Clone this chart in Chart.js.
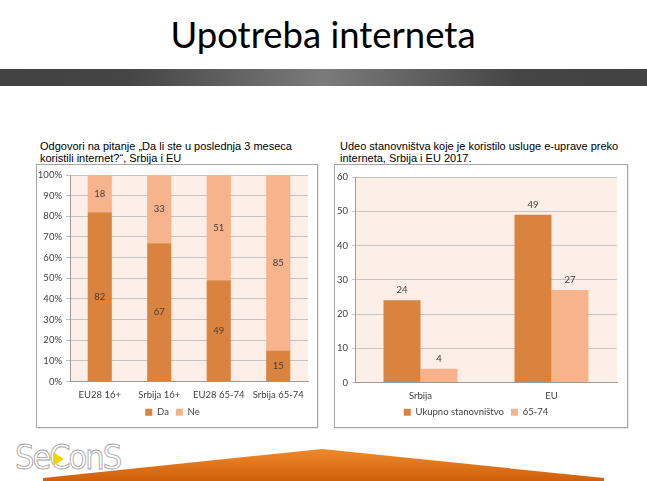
<!DOCTYPE html>
<html>
<head>
<meta charset="utf-8">
<script src="https://cdn.jsdelivr.net/npm/chart.js@4.4.1/dist/chart.umd.min.js"></script>
<style>
  html, body { margin:0; padding:0; }
  body { width:647px; height:481px; position:relative; overflow:hidden; background:#fff; }
  #deco { position:absolute; left:0; top:0; }
  .ctitle { position:absolute; font-family:"Liberation Sans", Arial, sans-serif; font-size:11px; line-height:12px; color:#000; }
  .box { position:absolute; box-sizing:border-box; border:1px solid #a6a6a6; background:#fff; box-shadow:1px 1px 1px rgba(0,0,0,0.08); }
  .box canvas { display:block; }
</style>
</head>
<body>
<svg id="deco" width="647" height="481" xmlns="http://www.w3.org/2000/svg">
  <defs>
    <linearGradient id="band" x1="0" y1="0" x2="1" y2="0">
      <stop offset="0" stop-color="#424242"/>
      <stop offset="0.2" stop-color="#454545"/>
      <stop offset="0.5" stop-color="#7b7b7b"/>
      <stop offset="0.8" stop-color="#454545"/>
      <stop offset="1" stop-color="#424242"/>
    </linearGradient>
    <linearGradient id="orange" x1="0" y1="0" x2="0" y2="1">
      <stop offset="0" stop-color="#ee8a2a"/>
      <stop offset="1" stop-color="#cf5f0c"/>
    </linearGradient>
  </defs>
  <text x="323" y="48" text-anchor="middle" font-family="Lato, 'Open Sans', sans-serif" font-size="36.5" fill="#000">Upotreba interneta</text>
  <rect x="0" y="69" width="647" height="17" fill="url(#band)"/>
  <polygon points="43,478 322,449 604,478 604,481 43,481" fill="url(#orange)"/>
  <text x="15" y="469" font-family="'DejaVu Sans Condensed','DejaVu Sans',sans-serif" font-size="34" font-weight="300" fill="#fff" stroke="#a0a0a0" stroke-width="0.8" letter-spacing="-2">SeConS</text>
  <polygon points="53,452 64,459 53,466" fill="#f2d400"/>
</svg>

<div class="ctitle" style="left:40px; top:140px; width:280px;">Odgovori na pitanje „Da li ste u poslednja 3 meseca<br>koristili internet?“, Srbija i EU</div>
<div class="ctitle" style="left:340px; top:140px; width:290px;">Udeo stanovništva koje je koristilo usluge e-uprave preko<br>interneta, Srbija i EU 2017.</div>

<div class="box" style="left:36px; top:164px; width:282px; height:264px;"><canvas id="c1" width="280" height="262"></canvas></div>
<div class="box" style="left:334px; top:164px; width:294px; height:264px;"><canvas id="c2" width="292" height="262"></canvas></div>

<script>
// ---- data ----
const leftCategories = ['EU28 16+', 'Srbija 16+', 'EU28 65-74', 'Srbija 65-74'];
const leftDa = [82, 67, 49, 15];
const leftNe = [18, 33, 51, 85];
const leftTickLabels = ['0%', '10%', '20%', '30%', '40%', '50%', '60%', '70%', '80%', '90%', '100%'];
const leftSeriesNames = ['Da', 'Ne'];

const rightCategories = ['Srbija', 'EU'];
const rightUkupno = [24, 49];
const right6574 = [4, 27];
const rightTickLabels = ['0', '10', '20', '30', '40', '50', '60'];
const rightSeriesNames = ['Ukupno stanovništvo', '65-74'];

// ---- style ----
const DARK = '#d9833e';
const LIGHT = '#f7b38b';
const PLOTBG = '#fdeee7';
const GRID = '#c4c4c4';
const TXT = '#404040';
const FONT = 'Lato, "Open Sans", sans-serif';

const plotBg = {
  id: 'plotBg',
  beforeDraw(chart) {
    const a = chart.chartArea, ctx = chart.ctx;
    ctx.save();
    ctx.fillStyle = PLOTBG;
    ctx.fillRect(a.left, a.top, a.right - a.left, a.bottom - a.top);
    ctx.restore();
  }
};

const valueLabels = {
  id: 'valueLabels',
  afterDatasetsDraw(chart, args, opts) {
    const ctx = chart.ctx;
    ctx.save();
    ctx.font = '9.5px ' + FONT;
    ctx.fillStyle = TXT;
    ctx.textAlign = 'center';
    ctx.textBaseline = 'middle';
    chart.data.datasets.forEach((ds, di) => {
      const meta = chart.getDatasetMeta(di);
      meta.data.forEach((el, i) => {
        const v = ds.data[i];
        if (opts.mode === 'center') {
          ctx.fillText(String(v), el.x, (el.y + el.base) / 2);
        } else {
          ctx.fillText(String(v), el.x, el.y - 10);
        }
      });
    });
    ctx.restore();
  }
};

const legendOpts = {
  position: 'bottom',
  labels: { boxWidth: 7, boxHeight: 7, padding: 7, color: TXT, font: { family: FONT, size: 9.5 } }
};

new Chart(document.getElementById('c1'), {
  type: 'bar',
  data: {
    labels: leftCategories,
    datasets: [
      { label: leftSeriesNames[0], data: leftDa, backgroundColor: DARK, barPercentage: 1, categoryPercentage: 0.405 },
      { label: leftSeriesNames[1], data: leftNe, backgroundColor: LIGHT, barPercentage: 1, categoryPercentage: 0.405 }
    ]
  },
  options: {
    responsive: false,
    animation: false,
    layout: { padding: { left: 0, right: 9, top: 10, bottom: 0 } },
    plugins: { legend: legendOpts, tooltip: { enabled: false }, valueLabels: { mode: 'center' } },
    scales: {
      x: {
        stacked: true,
        grid: { display: false },
        border: { display: true, color: '#9a9a9a' },
        ticks: { color: TXT, font: { family: FONT, size: 9.5 }, padding: 0, maxRotation: 0 },
        afterFit(s) { s.height = 19; }
      },
      y: {
        stacked: true,
        min: 0, max: 100,
        grid: { color: GRID, tickLength: 4 },
        border: { display: true, color: '#9a9a9a' },
        ticks: { stepSize: 10, padding: 4, color: TXT, font: { family: FONT, size: 9.5 },
                 callback: (v, i) => leftTickLabels[i] },
        afterFit(s) { s.width = 33; }
      }
    }
  },
  plugins: [plotBg, valueLabels]
});

new Chart(document.getElementById('c2'), {
  type: 'bar',
  data: {
    labels: rightCategories,
    datasets: [
      { label: rightSeriesNames[0], data: rightUkupno, backgroundColor: DARK, barPercentage: 1, categoryPercentage: 0.565 },
      { label: rightSeriesNames[1], data: right6574, backgroundColor: LIGHT, barPercentage: 1, categoryPercentage: 0.565 }
    ]
  },
  options: {
    responsive: false,
    animation: false,
    layout: { padding: { left: 0, right: 10, top: 12, bottom: 0 } },
    plugins: { legend: legendOpts, tooltip: { enabled: false }, valueLabels: { mode: 'top' } },
    scales: {
      x: {
        grid: { display: false },
        border: { display: true, color: '#9a9a9a' },
        ticks: { color: TXT, font: { family: FONT, size: 9.5 }, padding: 0, maxRotation: 0 },
        afterFit(s) { s.height = 18; }
      },
      y: {
        min: 0, max: 60,
        grid: { color: GRID, tickLength: 3 },
        border: { display: true, color: '#9a9a9a' },
        ticks: { stepSize: 10, padding: 4, color: TXT, font: { family: FONT, size: 9.5 },
                 callback: (v, i) => rightTickLabels[i] },
        afterFit(s) { s.width = 20; }
      }
    }
  },
  plugins: [plotBg, valueLabels]
});
</script>
</body>
</html>
